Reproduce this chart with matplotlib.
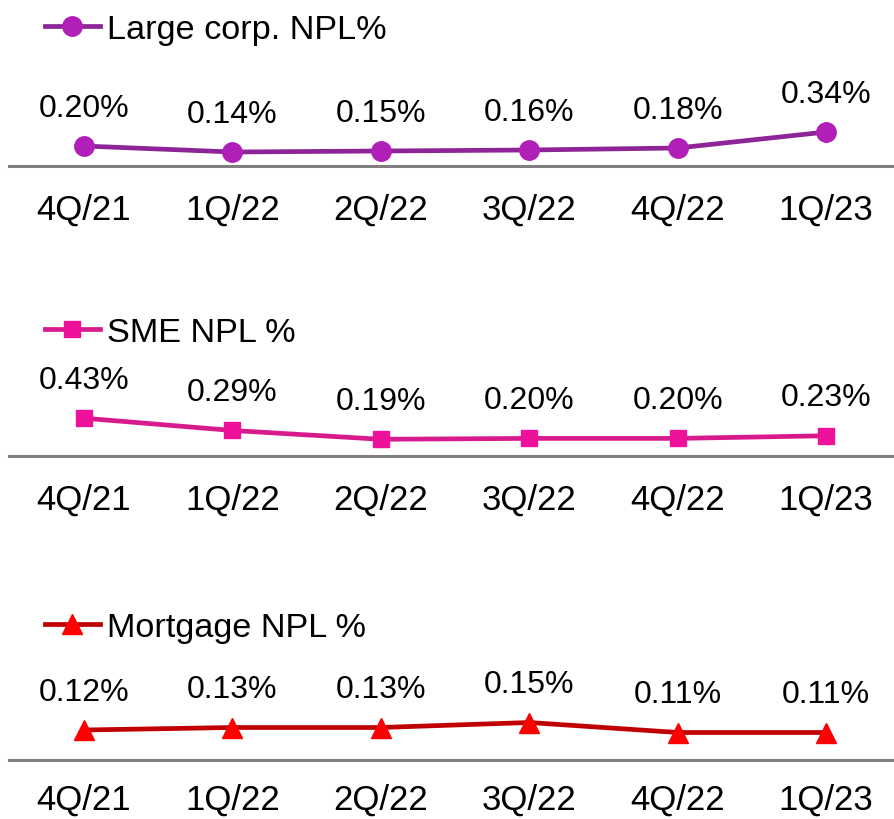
import matplotlib.pyplot as plt

plt.rcParams["font.family"] = ["Liberation Sans", "DejaVu Sans"]

quarters = ["4Q/21", "1Q/22", "2Q/22", "3Q/22", "4Q/22", "1Q/23"]
large_corp_npl = [0.20, 0.14, 0.15, 0.16, 0.18, 0.34]
sme_npl = [0.43, 0.29, 0.19, 0.20, 0.20, 0.23]
mortgage_npl = [0.12, 0.13, 0.13, 0.15, 0.11, 0.11]

W, H = 894, 820
fig = plt.figure(figsize=(W / 100, H / 100), dpi=100)

# (values, legend text, line colour, marker colour, marker, marker size,
#  baseline y in px from top, px per 1%, legend centre y in px, tick pad)
panels = [
    (large_corp_npl, "Large corp. NPL%", "#8e2596", "#b01fb8", "o", 14, 167, 100, 30, 19.5),
    (sme_npl, "SME NPL %", "#d81b8c", "#ee1199", "s", 12, 457, 88, 333, 19.5),
    (mortgage_npl, "Mortgage NPL %", "#c00000", "#ff0000", "^", 14, 761, 250, 628, 16.5),
]

left_px, right_px = 9, 894
x_per_cat = 148.4
x0 = 84
ax_h_px = 110

for vals, name, lc, mc, mk, ms, base_y, scale, leg_y, pad in panels:
    ax = fig.add_axes([left_px / W, 1 - base_y / H, (right_px - left_px) / W, ax_h_px / H])
    ax.set_xlim(-(x0 - left_px) / x_per_cat, (right_px - x0) / x_per_cat)
    ax.set_ylim(0, ax_h_px / scale)
    x = range(len(quarters))
    ax.plot(x, vals, color=lc, lw=3.4, marker=mk, markersize=ms,
            markerfacecolor=mc, markeredgecolor=mc, label=name, zorder=3,
            clip_on=False)
    for xi, v in zip(x, vals):
        ax.annotate(f"{v:.2f}%", (xi, v), xytext=(0, 27.6), textcoords="offset points",
                    ha="center", va="center", fontsize=23)

    for s in ["top", "right", "left"]:
        ax.spines[s].set_visible(False)
    ax.spines["bottom"].set_color("#808080")
    ax.spines["bottom"].set_linewidth(2.2)
    ax.set_yticks([])
    ax.set_xticks(list(x))
    ax.set_xticklabels(quarters, fontsize=25)
    ax.tick_params(axis="x", length=0, pad=pad)
    ax.patch.set_visible(False)

    ax.legend(loc="center left", bbox_to_anchor=(45 / W, 1 - leg_y / H),
              bbox_transform=fig.transFigure, frameon=False, fontsize=24.7,
              handlelength=1.6, handletextpad=0.2, borderpad=0, borderaxespad=0)

fig.savefig("out.png", dpi=100)
